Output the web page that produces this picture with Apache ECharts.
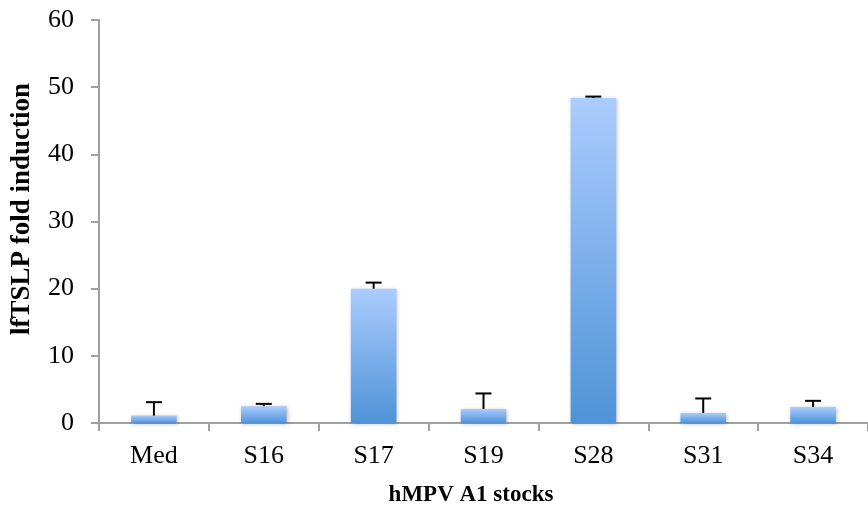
<!DOCTYPE html>
<html><head><meta charset="utf-8">
<script src="https://cdn.jsdelivr.net/npm/echarts@6/dist/echarts.min.js"></script>
<style>html,body{margin:0;padding:0;background:#fff}#c{width:868px;height:511px}</style>
</head><body><div id="c"></div>
<script>
var categories = ['Med', 'S16', 'S17', 'S19', 'S28', 'S31', 'S34'];
var values = [1.1, 2.5, 20.0, 2.1, 48.4, 1.5, 2.4];
var errorTops = [3.1, 2.85, 20.9, 4.4, 48.6, 3.65, 3.3];
var yTicks = [0, 10, 20, 30, 40, 50, 60];

var chart = echarts.init(document.getElementById('c'));
var font = '"Liberation Serif", "DejaVu Serif", serif';
var axisCol = '#a0a0a0';
chart.setOption({
  animation: false,
  grid: {left: 99, right: -7, top: 20, bottom: 88, containLabel: false},
  xAxis: {
    type: 'category', data: categories,
    axisLine: {lineStyle: {color: axisCol, width: 2}},
    axisTick: {show: true, length: 8, lineStyle: {color: axisCol, width: 2}, alignWithLabel: false},
    axisLabel: {color: '#000', fontFamily: font, fontSize: 26, margin: 20}
  },
  yAxis: {
    type: 'value', min: yTicks[0], max: yTicks[yTicks.length - 1], interval: 10,
    splitLine: {show: false},
    axisLine: {show: true, lineStyle: {color: axisCol, width: 2}},
    axisTick: {show: true, length: 8, lineStyle: {color: axisCol, width: 2}},
    axisLabel: {color: '#000', fontFamily: font, fontSize: 26, margin: 25}
  },
  graphic: [
    {type: 'text', x: 471, y: 495, style: {text: 'hMPV A1 stocks', font: 'bold 23px ' + font, fill: '#000', align: 'center', verticalAlign: 'middle'}},
    {type: 'text', x: 22, y: 209, rotation: Math.PI / 2, style: {text: 'lfTSLP fold induction', font: 'bold 27px ' + font, fill: '#000', align: 'center', verticalAlign: 'middle'}}
  ],
  series: [
    {
      type: 'bar', data: values, barWidth: '41.5%', z: 2,
      itemStyle: {
        color: new echarts.graphic.LinearGradient(0, 0, 0, 1, [
          {offset: 0, color: '#abccfe'}, {offset: 1, color: '#4f93d8'}
        ]),
        shadowColor: 'rgba(0,0,0,0.25)', shadowBlur: 4, shadowOffsetX: 1, shadowOffsetY: 1
      }
    },
    {
      type: 'custom', z: 3,
      data: categories.map(function (c, i) { return [i, values[i], errorTops[i]]; }),
      renderItem: function (params, api) {
        var base = api.coord([api.value(0), api.value(1)]);
        var top = api.coord([api.value(0), api.value(2)]);
        var hw = 8;
        return {type: 'group', children: [
          {type: 'line', shape: {x1: base[0], y1: base[1], x2: top[0], y2: top[1]}, style: {stroke: '#000', lineWidth: 2}},
          {type: 'line', shape: {x1: top[0] - hw, y1: top[1], x2: top[0] + hw, y2: top[1]}, style: {stroke: '#000', lineWidth: 2}}
        ]};
      }
    }
  ]
});
</script></body></html>
